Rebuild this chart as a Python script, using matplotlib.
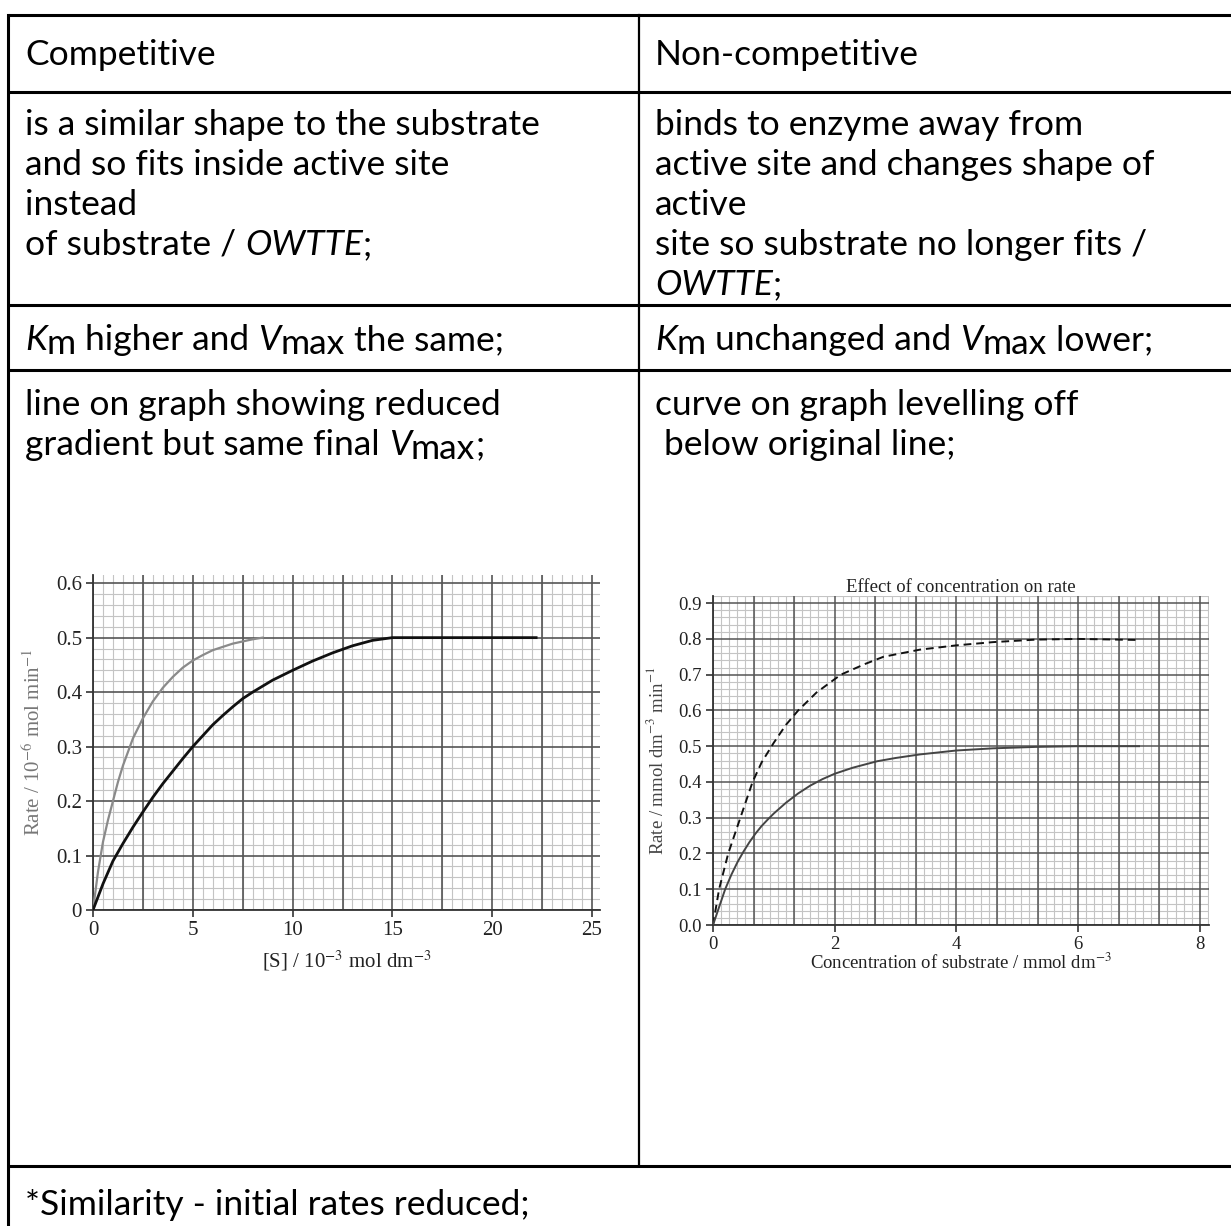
import numpy as np
import matplotlib
matplotlib.use("Agg")
import matplotlib.pyplot as plt
from matplotlib.ticker import MultipleLocator

plt.rcParams["mathtext.fontset"] = "stix"

W, H = 1231, 1226

# competitive graph (left)
comp_x_grey = [0, 0.25, 0.5, 0.75, 1.0, 1.25, 1.5, 2.0, 2.5, 3.0, 3.5, 4.0, 4.5, 5.0, 5.5, 6.0, 7.0, 8.0, 8.5]
comp_y_grey = [0, 0.07, 0.125, 0.165, 0.20, 0.235, 0.265, 0.315, 0.352, 0.383, 0.408, 0.428, 0.445, 0.458, 0.468, 0.477, 0.489, 0.497, 0.50]
comp_x_black = [0, 0.5, 1, 1.5, 2, 2.5, 3, 3.5, 4, 4.5, 5, 5.5, 6, 6.5, 7, 7.5, 8, 9, 10, 11, 12, 13, 14, 15, 22.2]
comp_y_black = [0, 0.048, 0.09, 0.122, 0.152, 0.18, 0.207, 0.232, 0.255, 0.278, 0.30, 0.32, 0.34, 0.357, 0.373, 0.388, 0.40, 0.422, 0.44, 0.457, 0.472, 0.485, 0.495, 0.50, 0.50]

# non-competitive graph (right)
nc_x_dash = [0, 0.1, 0.25, 0.45, 0.65, 0.8, 1.0, 1.2, 1.4, 1.7, 2.1, 2.5, 2.8, 3.4, 4.0, 4.6, 5.3, 6.0, 7.0]
nc_y_dash = [0, 0.10, 0.20, 0.30, 0.40, 0.455, 0.51, 0.56, 0.60, 0.65, 0.70, 0.73, 0.75, 0.77, 0.782, 0.791, 0.798, 0.80, 0.797]
nc_x_solid = [0, 0.1, 0.2, 0.3, 0.4, 0.5, 0.6, 0.7, 0.8, 0.9, 1.0, 1.2, 1.4, 1.6, 1.8, 2.0, 2.3, 2.7, 3.0, 3.4, 4.0, 4.6, 5.3, 6.0, 7.0]
nc_y_solid = [0, 0.05, 0.10, 0.14, 0.175, 0.205, 0.232, 0.256, 0.277, 0.295, 0.312, 0.342, 0.368, 0.39, 0.408, 0.423, 0.44, 0.458, 0.467, 0.477, 0.488, 0.494, 0.498, 0.50, 0.50]

fig = plt.figure(figsize=(W / 100, H / 100), dpi=100)
bg = fig.add_axes([0, 0, 1, 1])
bg.set_xlim(0, W)
bg.set_ylim(H, 0)
bg.axis("off")

# table rules
x_left, x_mid, x_right = 8, 639, 1240
rows = [15, 92, 305, 370, 1166]
for y in rows:
    bg.plot([x_left, x_right], [y, y], color="black", lw=2.2, solid_capstyle="butt")
bg.plot([x_left, x_left], [15, 1240], color="black", lw=2.2)
bg.plot([x_mid, x_mid], [15, 1166], color="black", lw=1.6)

FONT = "Lato"
FS = 25.5
renderer = fig.canvas.get_renderer()


def runs(x, y, parts):
    # parts: (text, italic, dy)
    for txt, ital, dy in parts:
        t = bg.text(x, y + dy, txt, fontsize=FS, family=FONT,
                    style="italic" if ital else "normal", va="center", ha="left")
        bb = t.get_window_extent(renderer=renderer)
        x += bb.width


def line(x, y, s):
    runs(x, y, [(s, False, 0)])


lx, rx = 25, 655
line(lx, 55, "Competitive")
line(rx, 55, "Non-competitive")

line(lx, 125, "is a similar shape to the substrate")
line(lx, 165, "and so fits inside active site")
line(lx, 205, "instead")
runs(lx, 245, [("of substrate / ", False, 0), ("OWTTE", True, 0), (";", False, 0)])

line(rx, 125, "binds to enzyme away from")
line(rx, 165, "active site and changes shape of")
line(rx, 205, "active")
line(rx, 245, "site so substrate no longer fits /")
runs(rx, 285, [("OWTTE", True, 0), (";", False, 0)])

runs(lx, 340, [("K", True, 0), ("m", False, 4), (" higher and ", False, 0),
               ("V", True, 0), ("max", False, 4), (" the same;", False, 0)])
runs(rx, 340, [("K", True, 0), ("m", False, 4), (" unchanged and ", False, 0),
               ("V", True, 0), ("max", False, 4), (" lower;", False, 0)])

line(lx, 405, "line on graph showing reduced")
runs(lx, 445, [("gradient but same final ", False, 0), ("V", True, 0), ("max", False, 4), (";", False, 0)])
line(rx, 405, "curve on graph levelling off")
line(rx, 445, " below original line;")

line(lx, 1205, "*Similarity - initial rates reduced;")

SERIF = "Liberation Serif"


def paper(ax, xmin, ymin, size):
    ax.xaxis.set_minor_locator(MultipleLocator(xmin))
    ax.yaxis.set_minor_locator(MultipleLocator(ymin))
    ax.grid(which="minor", color="#c4c4c4", lw=0.8)
    ax.set_axisbelow(True)
    for s in ["top", "right"]:
        ax.spines[s].set_visible(False)
    for s in ["left", "bottom"]:
        ax.spines[s].set_color("#333333")
        ax.spines[s].set_linewidth(1.3)
    ax.tick_params(which="minor", length=0)
    ax.tick_params(which="major", length=5, width=1.2, color="#333333",
                   labelsize=size, labelcolor="#222222", pad=3)
    for lab in ax.get_xticklabels() + ax.get_yticklabels():
        lab.set_family(SERIF)


# left chart
ax1 = fig.add_axes([93 / W, 1 - 910 / H, (600 - 93) / W, (910 - 575) / H])
ax1.set_xlim(0, 25.4)
ax1.set_ylim(0, 0.615)
for v in np.arange(0, 25.1, 2.5):
    ax1.axvline(v, color="#555555", lw=1.2, zorder=1)
for v in np.arange(0, 0.61, 0.1):
    ax1.axhline(v, color="#555555", lw=1.2, zorder=1)
ax1.set_xticks([0, 5, 10, 15, 20, 25])
ax1.set_yticks([0, 0.1, 0.2, 0.3, 0.4, 0.5, 0.6])
ax1.set_yticklabels(["0", "0.1", "0.2", "0.3", "0.4", "0.5", "0.6"])
paper(ax1, 0.5, 0.02, 15)
ax1.plot(comp_x_grey, comp_y_grey, color="#8a8a8a", lw=1.6, zorder=3)
ax1.plot(comp_x_black, comp_y_black, color="#111111", lw=2.0, zorder=3)
ax1.set_xlabel("[S] / 10$^{-3}$ mol dm$^{-3}$", family=SERIF, fontsize=15, color="#222222", labelpad=6)
ax1.set_ylabel("Rate / 10$^{-6}$ mol min$^{-1}$", family=SERIF, fontsize=15, color="#777777", labelpad=8)

# right chart
ax2 = fig.add_axes([713 / W, 1 - 925 / H, (1209 - 713) / W, (925 - 596) / H])
ax2.set_xlim(0, 8.15)
ax2.set_ylim(0, 0.92)
for v in np.arange(0, 8.01, 2 / 3):
    ax2.axvline(v, color="#555555", lw=1.1, zorder=1)
for v in np.arange(0, 0.91, 0.1):
    ax2.axhline(v, color="#555555", lw=1.1, zorder=1)
ax2.set_xticks([0, 2, 4, 6, 8])
ax2.set_yticks(np.arange(0, 0.91, 0.1))
ax2.set_yticklabels(["%.1f" % v for v in np.arange(0, 0.91, 0.1)])
paper(ax2, 2 / 15, 0.02, 13.5)
ax2.plot(nc_x_dash, nc_y_dash, color="#111111", lw=1.4, ls=(0, (4, 2.5)), zorder=3)
ax2.plot(nc_x_solid, nc_y_solid, color="#444444", lw=1.4, zorder=3)
ax2.set_title("Effect of concentration on rate", family=SERIF, fontsize=13.5, color="#222222", pad=3)
ax2.set_xlabel("Concentration of substrate / mmol dm$^{-3}$", family=SERIF, fontsize=13.5, color="#222222", labelpad=0)
ax2.set_ylabel("Rate / mmol dm$^{-3}$ min$^{-1}$", family=SERIF, fontsize=13.5, color="#444444", labelpad=8)

fig.savefig("out.png", dpi=100)
